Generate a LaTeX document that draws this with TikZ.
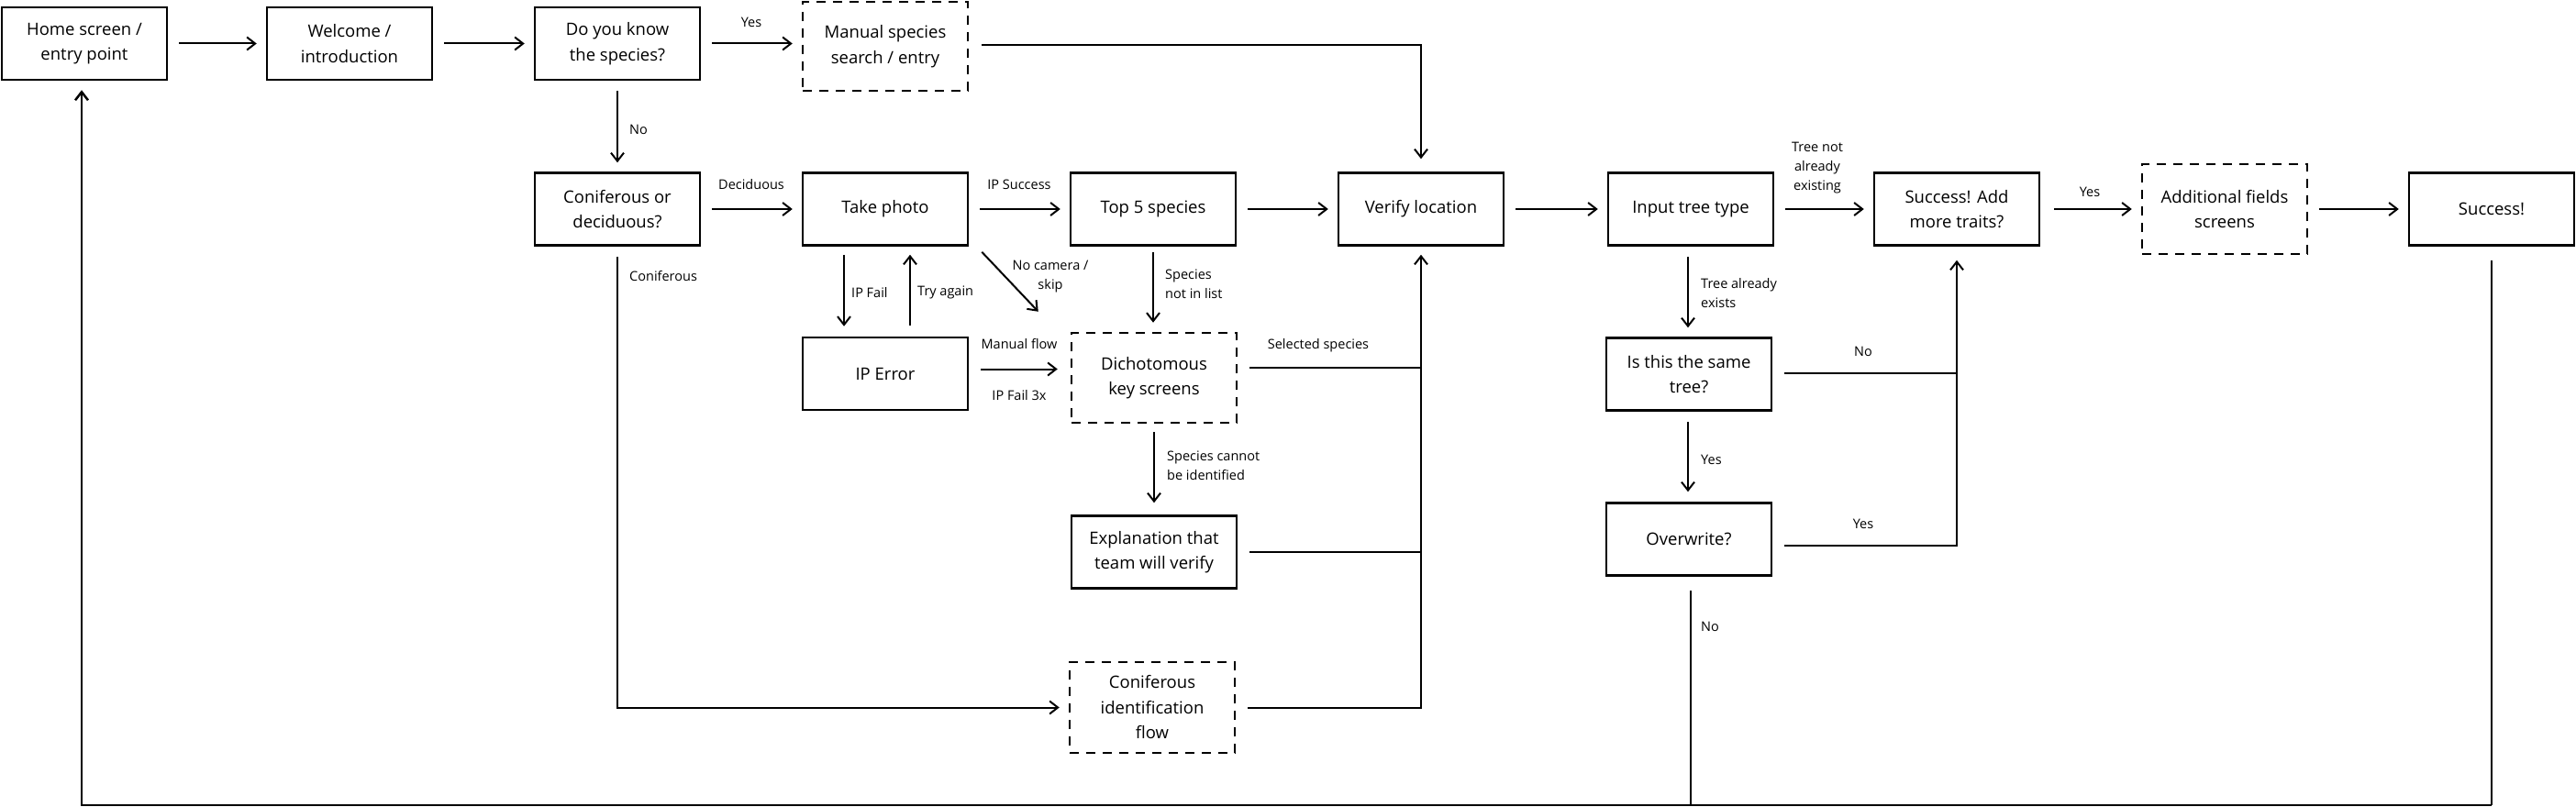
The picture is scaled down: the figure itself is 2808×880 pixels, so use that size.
\documentclass[tikz,border=0pt]{standalone}
\usepackage{fontspec}
\setmainfont{Open Sans}
\usetikzlibrary{arrows.meta,calc}
\newcommand\bxfont{\fontsize{18.5}{27.5}\selectfont}
\newcommand\lbfont{\fontsize{14.5}{21}\selectfont}
\begin{document}
\begin{tikzpicture}[x=1pt,y=-1pt,
 box/.style={draw,line width=2.5pt,minimum width=180pt,minimum height=79pt,align=center,font=\bxfont,inner sep=0pt},
 dbox/.style={box,dash pattern=on 10pt off 8pt,minimum height=98pt},
 arr/.style={line width=2pt,-{Straight Barb[length=9pt,width=14pt]},shorten <=12pt,shorten >=10pt},
 ln/.style={line width=2pt},
 lbl/.style={font=\lbfont,align=center,inner sep=0pt},
 lbw/.style={lbl,anchor=west,align=left}]
\useasboundingbox (0,0) rectangle (2808,880);
\fill[white] (0,0) rectangle (2808,880);
% row 0
\node[box] (home) at (92,47.5) {Home screen /\\entry point};
\node[box] (welcome) at (381,47.5) {Welcome /\\introduction};
\node[box] (know) at (673,47.5) {Do you know\\the species?};
\node[dbox,minimum height=97pt] (manual) at (965,50.5) {Manual species\\search / entry};
% row 1
\node[box] (conif) at (673,228) {Coniferous or\\deciduous?};
\node[box] (photo) at (965,228) {Take photo};
\node[box] (top5) at (1257,228) {Top 5 species};
\node[box] (verify) at (1549,228) {Verify location};
\node[box] (input) at (1843,228) {Input tree type};
\node[box] (succadd) at (2133,228) {Success! Add\\more traits?};
\node[dbox] (addl) at (2425,228) {Additional fields\\screens};
\node[box] (success) at (2716,228) {Success!};
% row 2
\node[box] (iperr) at (965,407.5) {IP Error};
\node[dbox] (dich) at (1258,412) {Dichotomous\\key screens};
\node[box] (same) at (1841,408) {Is this the same\\tree?};
% row 3
\node[box] (expl) at (1258,602) {Explanation that\\team will verify};
\node[box] (over) at (1841,588) {Overwrite?};
% row 4
\node[dbox,minimum height=99pt] (conid) at (1256,771.5) {Coniferous\\identification\\flow};
\coordinate (bl) at (0,878);

% connectors row 0
\draw[arr] (home) -- (welcome);
\draw[arr] (welcome) -- (know);
\draw[arr] (know) -- (manual.west |- know.east);
\draw[arr,shorten <=11pt] (know) -- (conif);
\draw[arr,shorten <=14pt,shorten >=14pt] ([yshift=1.5pt]manual.east) -| (verify.north);
% row 1
\draw[arr] (conif) -- (photo);
\draw[arr] (photo) -- (top5);
\draw[arr] (top5) -- (verify);
\draw[arr] (verify) -- (input);
\draw[arr] (input) -- (succadd);
\draw[arr,shorten <=15pt] (succadd) -- (addl);
\draw[arr] (addl) -- (success);
% photo / ip error
\draw[arr,shorten <=9pt,shorten >=11pt] ([xshift=-45pt]photo.south) -- ([xshift=-45pt]iperr.north);
\draw[arr,shorten <=12pt,shorten >=9pt] ([xshift=27pt]iperr.north) -- ([xshift=27pt]photo.south);
\draw[arr,shorten <=0pt,shorten >=0pt] ($(photo.south east)+(14,6)$) -- ($(dich.north west)+(-35,-22)$);
\draw[arr,shorten <=6pt,shorten >=10pt] (top5.south) -- (top5.south |- dich.north);
\coordinate (m1) at ([yshift=5pt]iperr.east);
\draw[arr,shorten <=13pt,shorten >=14pt] (m1) -- (m1 -| dich.west);
\draw[arr,shorten <=9pt,shorten >=13pt] (dich.south) -- (expl.north);
% bus into verify
\coordinate (d1) at ([yshift=11pt]dich.east);
\draw[ln,shorten <=13pt] (d1) -- (d1 -| verify.south);
\draw[ln,shorten <=13pt] (expl.east) -- (expl.east -| verify.south);
\draw[arr,shorten <=13pt,shorten >=9pt] (conid.east) -- (conid.east -| verify.south) -- (verify.south);
\draw[arr,shorten <=11pt,shorten >=10pt] (conif.south) |- (conid.west);
% right part
\draw[arr,shorten <=11pt,shorten >=10pt] ([xshift=-3pt]input.south) -- ([xshift=-1pt]same.north);
\draw[arr,shorten <=11pt,shorten >=11pt] ([xshift=-1pt]same.south) -- ([xshift=-1pt]over.north);
\coordinate (s1) at ([yshift=1pt]same.east);
\draw[ln,shorten <=13pt] (s1) -- (s1 -| succadd.south);
\coordinate (o1) at ([yshift=-7pt]over.east);
\draw[arr,shorten <=13pt,shorten >=15pt] (o1) -- (o1 -| succadd.south) -- (succadd.south);
\draw[ln,shorten <=15pt] ([xshift=2pt]over.south) -- ([xshift=2pt]over.south |- bl);
\draw[ln,shorten <=15pt] (success.south) -- (success.south |- bl);
\draw[arr,line width=2.5pt,shorten <=0pt,shorten >=10pt] (success.south |- bl) -- ([xshift=-3pt]home.south |- bl) -- ([xshift=-3pt]home.south);

% labels
\node[lbl] (l1) at (819,24) {Yes};
\node[lbw] (l2) at (686,141) {No};
\node[lbl] (l3) at (819,201) {Deciduous};
\node[lbw] (l4) at (686,301) {Coniferous};
\node[lbl] (l5) at (1111,201) {IP Success};
\node[lbw] (l6) at (928,319) {IP Fail};
\node[lbw] (l7) at (1000,319) {Try again};
\node[lbl] (l8) at (1145,302) {No camera /\\skip};
\node[lbw] (l9) at (1270,310) {Species\\not in list};
\node[lbl] (l10) at (1111,375) {Manual flow};
\node[lbl] (l11) at (1111,431) {IP Fail 3x};
\node[lbl] (l12) at (1437,377) {Selected species};
\node[lbw] (l13) at (1272,507.5) {Species cannot\\be identified};
\node[lbl] (l14) at (1981,183) {Tree not\\already\\existing};
\node[lbl] (l15) at (2278,209) {Yes};
\node[lbw] (l16) at (1854,319.5) {Tree already\\exists};
\node[lbl] (l17) at (2031,383) {No};
\node[lbw] (l18) at (1854,501) {Yes};
\node[lbl] (l19) at (2031,571) {Yes};
\node[lbw] (l20) at (1854,683) {No};
\end{tikzpicture}
\end{document}
